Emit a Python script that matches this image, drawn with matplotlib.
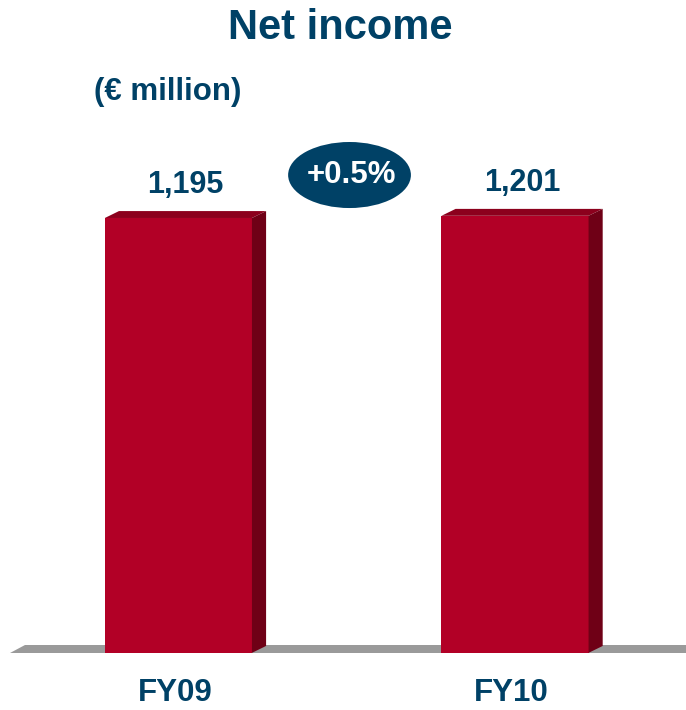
import matplotlib
matplotlib.use("Agg")
import matplotlib.pyplot as plt
from matplotlib.patches import Polygon, Ellipse

plt.rcParams['font.family'] = ['Liberation Sans', 'DejaVu Sans']

years = ['FY09', 'FY10']
net_income = [1195, 1201]
growth = '+0.5%'

navy = '#004166'
front = '#b20026'
top_face = '#8c001d'
side_face = '#6f0016'
floor_grey = '#9a9a9a'

fig = plt.figure(figsize=(6.86, 7.10), dpi=100)
ax = fig.add_axes([0, 0, 1, 1])
ax.set_xlim(-0.530, 1.508)
ax.set_ylim(-157, 1794)
ax.axis('off')

w = 0.437
dx, dy = 0.042, 19   # fake 3D depth

# floor slab
ax.add_patch(Polygon([(-0.501, 0), (1.52, 0), (1.52, 22), (-0.501 + 0.045, 22)],
                     closed=True, color=floor_grey, lw=0, zorder=1))

xs = range(len(years))
ax.bar(xs, net_income, width=w, color=front, zorder=3)
for x, v in zip(xs, net_income):
    l, r = x - w / 2, x + w / 2
    ax.add_patch(Polygon([(l, v), (r, v), (r + dx, v + dy), (l + dx, v + dy)],
                         closed=True, color=top_face, lw=0, zorder=3))
    ax.add_patch(Polygon([(r, 0), (r + dx, dy), (r + dx, v + dy), (r, v)],
                         closed=True, color=side_face, lw=0, zorder=3))
    ax.annotate('{:,}'.format(v), xy=(x + dx / 2, v), xytext=(0, 18),
                textcoords='offset points', ha='center', va='baseline',
                fontsize=22, fontweight='bold', color=navy)
    ax.annotate(years[x], xy=(x - 0.01, 0), xytext=(0, -35),
                textcoords='offset points', ha='center', va='baseline',
                fontsize=22.5, fontweight='bold', color=navy)

fig.text(0.496, 0.945, 'Net income', ha='center', va='baseline',
         fontsize=30, fontweight='bold', color=navy)
fig.text(0.244, 0.859, '(\u20ac million)', ha='center', va='baseline',
         fontsize=22.5, fontweight='bold', color=navy)

fig.add_artist(Ellipse((0.5095, 0.7535), 0.179, 0.093,
                       transform=fig.transFigure, color=navy, lw=0))
fig.text(0.512, 0.7535, growth, ha='center', va='center',
         fontsize=22.5, fontweight='bold', color='white')

fig.savefig('out.png', dpi=100)
